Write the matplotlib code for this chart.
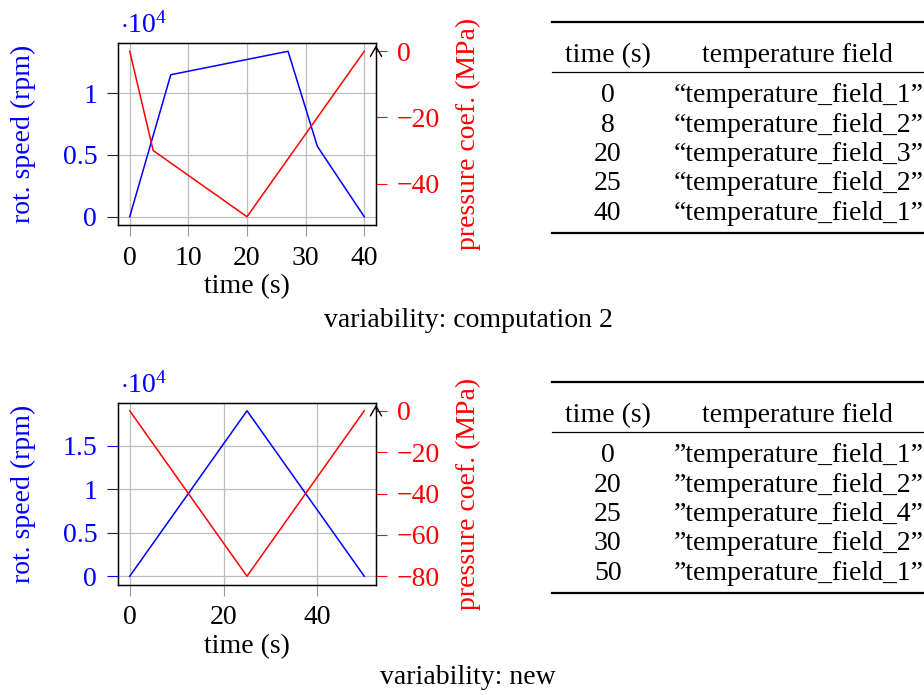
import matplotlib
matplotlib.use("Agg")
import matplotlib.pyplot as plt
from matplotlib.lines import Line2D
from matplotlib.ticker import MultipleLocator, FuncFormatter

plt.rcParams["font.family"] = "Liberation Serif"
plt.rcParams["mathtext.fontset"] = "custom"
plt.rcParams["mathtext.rm"] = "Liberation Serif"
plt.rcParams["mathtext.it"] = "Liberation Serif:italic"
plt.rcParams["font.size"] = 20

# variability: computation 2
t_speed_c2 = [0, 7, 27, 32, 40]
speed_c2 = [0, 11500, 13400, 5700, 0]
t_press_c2 = [0, 4, 20, 40]
press_c2 = [0, -30, -50, 0]
tab_time_c2 = ["0", "8", "20", "25", "40"]
tab_field_c2 = ["\u201ctemperature_field_1\u201d", "\u201ctemperature_field_2\u201d",
                "\u201ctemperature_field_3\u201d", "\u201ctemperature_field_2\u201d",
                "\u201ctemperature_field_1\u201d"]

# variability: new
t_speed_new = [0, 25, 50]
speed_new = [0, 19000, 0]
t_press_new = [0, 25, 50]
press_new = [0, -80, 0]
tab_time_new = ["0", "20", "25", "30", "50"]
tab_field_new = ["\u201dtemperature_field_1\u201d", "\u201dtemperature_field_2\u201d",
                 "\u201dtemperature_field_4\u201d", "\u201dtemperature_field_2\u201d",
                 "\u201dtemperature_field_1\u201d"]

W, H = 924, 695
fig = plt.figure(figsize=(W / 100, H / 100), dpi=100)


def px(x, y):
    # pixel position (from top-left) -> figure fraction
    return x / W, 1 - y / H


def panel(top, ts, speed, tp, press, xstep):
    ax = fig.add_axes([118 / W, 1 - (top + 182) / H, 258 / W, 182 / H])
    ax.plot(ts, speed, color="#0000ff", lw=1.1)
    ax.xaxis.set_major_locator(MultipleLocator(xstep))
    ax.yaxis.set_major_locator(MultipleLocator(5000))
    ax.yaxis.set_major_formatter(FuncFormatter(lambda v, pos: f"{v / 1e4:g}"))
    ax.grid(color="#bdbdbd", lw=0.9)
    ax.set_axisbelow(True)
    for s in ax.spines.values():
        s.set_linewidth(1.0)
    ax.tick_params(axis="x", direction="out", length=8, width=0.8, color="#9a9a9a", pad=7)
    ax.tick_params(axis="y", direction="out", length=8, width=0.8, color="#0000ff",
                   labelcolor="#0000ff", pad=7)
    ax.set_xlabel("time (s)", va="top")
    ax.xaxis.set_label_coords(0.5, -0.27)
    ax.set_ylabel("rot. speed (rpm)", color="#0000ff")
    ax.yaxis.set_label_coords(-0.318, 0.5)
    ax.text(0.008, 1.055, r"$\cdot 10^{4}$", transform=ax.transAxes, color="#0000ff",
            ha="left", va="baseline")

    ax2 = ax.twinx()
    ax2.plot(tp, press, color="#ff0000", lw=1.1)
    ax2.yaxis.set_major_locator(MultipleLocator(20))
    ax2.tick_params(axis="y", direction="out", length=8, width=0.8, color="#ff0000",
                    labelcolor="#ff0000", pad=7)
    ax2.set_ylabel("pressure coef. (MPa)", color="#ff0000")
    ax2.yaxis.set_label_coords(1.31, 0.5)
    ax2.annotate("", xy=(1, 1.003), xytext=(1, 0.95), xycoords="axes fraction",
                 arrowprops=dict(arrowstyle="->,head_length=0.35,head_width=0.2",
                                 lw=1.0, color="black"), annotation_clip=False)
    return ax


def table(top, times, fields):
    x0, x1 = 552, 930
    for y, lw in [(top, 1.6), (top + 49.5, 0.9), (top + 211, 1.6)]:
        (fx0, fy), (fx1, _) = px(x0, y), px(x1, y)
        fig.add_artist(Line2D([fx0, fx1], [fy, fy], color="black", lw=lw))
    fig.text(*px(607.7, top + 33), "time (s)", ha="center", va="center")
    fig.text(*px(797, top + 33), "temperature field", ha="center", va="center")
    for i, (t, f) in enumerate(zip(times, fields)):
        y = top + 73.5 + i * 29.3
        fig.text(*px(607.7, y), t, ha="center", va="center")
        fig.text(*px(799, y), f, ha="center", va="center")


panel(43, t_speed_c2, speed_c2, t_press_c2, press_c2, 10)
table(22.3, tab_time_c2, tab_field_c2)
fig.text(*px(468, 321), "variability: computation 2", ha="center", va="center")

panel(402.5, t_speed_new, speed_new, t_press_new, press_new, 20)
table(382.3, tab_time_new, tab_field_new)
fig.text(*px(468, 678), "variability: new", ha="center", va="center")

fig.savefig("out.png", dpi=100)
